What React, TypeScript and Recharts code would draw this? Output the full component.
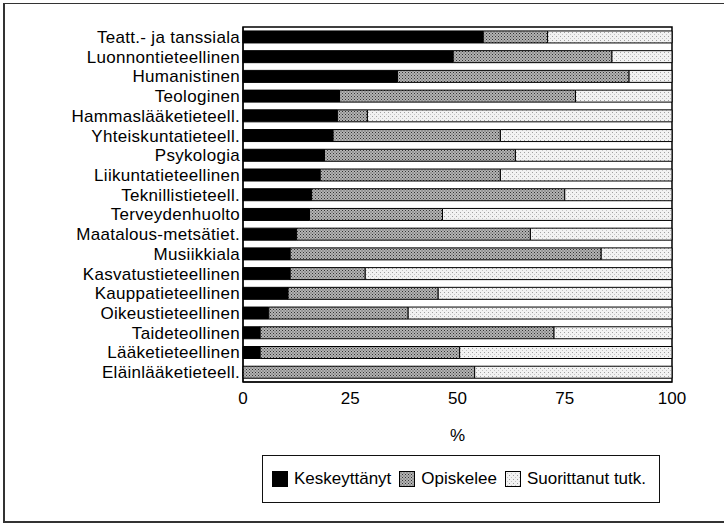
import React from "react";
import {
  BarChart,
  Bar,
  XAxis,
  YAxis,
  ReferenceArea,
} from "recharts";

const categories = [
  "Teatt.- ja tanssiala",
  "Luonnontieteellinen",
  "Humanistinen",
  "Teologinen",
  "Hammaslääketieteell.",
  "Yhteiskuntatieteell.",
  "Psykologia",
  "Liikuntatieteellinen",
  "Teknillistieteell.",
  "Terveydenhuolto",
  "Maatalous-metsätiet.",
  "Musiikkiala",
  "Kasvatustieteellinen",
  "Kauppatieteellinen",
  "Oikeustieteellinen",
  "Taideteollinen",
  "Lääketieteellinen",
  "Eläinlääketieteell.",
];

const keskeyttanyt = [56, 49, 36, 22.5, 22, 21, 19, 18, 16, 15.5, 12.5, 11, 11, 10.5, 6, 4, 4, 0];
const opiskelee = [15, 37, 54, 55, 7, 39, 44.5, 42, 59, 31, 54.5, 72.5, 17.5, 35, 32.5, 68.5, 46.5, 54];
const suorittanut = [29, 14, 10, 22.5, 71, 40, 36.5, 40, 25, 53.5, 33, 16.5, 71.5, 54.5, 61.5, 27.5, 49.5, 46];

const xTicks = [0, 25, 50, 75, 100];

const data = categories.map((name, i) => ({
  name,
  k: keskeyttanyt[i],
  o: opiskelee[i],
  s: suorittanut[i],
}));

const FONT = "'Liberation Sans', Arial, Helvetica, sans-serif";

const legendItems = [
  { label: "Keskeyttänyt", fill: "#000" },
  { label: "Opiskelee", fill: "url(#patOpi)" },
  { label: "Suorittanut tutk.", fill: "url(#patSuo)" },
];

const PatternDefs = () => (
  <defs>
    <pattern id="patOpi" width="3" height="3" patternUnits="userSpaceOnUse">
      <rect width="3" height="3" fill="#b4b4b4" />
      <rect x="0" y="0" width="1" height="1" fill="#333" />
      <rect x="1.5" y="1.5" width="1" height="1" fill="#444" />
    </pattern>
    <pattern id="patSuo" width="4" height="4" patternUnits="userSpaceOnUse">
      <rect width="4" height="4" fill="#f2f2f2" />
      <rect x="0" y="0" width="1" height="1" fill="#a0a0a0" />
      <rect x="2" y="2" width="1" height="1" fill="#c4c4c4" />
    </pattern>
  </defs>
);

const CustomLegend = () => (
  <div
    style={{
      display: "flex",
      alignItems: "center",
      border: "1px solid #111",
      height: 48,
      width: 398,
      boxSizing: "border-box",
      paddingLeft: 9,
      fontFamily: FONT,
      fontSize: 17,
      color: "#000",
      background: "#fff",
    }}
  >
    {legendItems.map((it, i) => (
      <div
        key={i}
        style={{ display: "flex", alignItems: "center", marginRight: 8 }}
      >
        <svg width={16} height={16} style={{ marginRight: 6 }}>
          <rect x={0.5} y={0.5} width={15} height={15} fill={it.fill} stroke="#000" />
        </svg>
        <span>{it.label}</span>
      </div>
    ))}
  </div>
);

export default function App() {
  return (
    <div
      style={{
        position: "absolute",
        left: 0,
        top: 0,
        width: 724,
        height: 523,
        background: "#fff",
      }}
    >
      <svg width={0} height={0} style={{ position: "absolute" }}>
        <PatternDefs />
      </svg>
      <div
        style={{
          position: "absolute",
          left: 3,
          top: 3,
          width: 722,
          height: 517,
          borderTop: "1px solid #333",
          borderLeft: "2px solid #333",
          borderBottom: "2px solid #333",
        }}
      />
      <div style={{ position: "absolute", left: 0, top: 0 }}>
        <BarChart
          width={724}
          height={523}
          data={data}
          layout="vertical"
          margin={{ top: 27, right: 52, left: 3, bottom: 81 }}
          barCategoryGap="20%"
        >
          <XAxis
            type="number"
            domain={[0, 100]}
            ticks={xTicks}
            interval={0}
            tickLine={false}
            axisLine={{ stroke: "#000" }}
            tickSize={0}
            tickMargin={10}
            height={60}
            tick={{ fontSize: 17, fill: "#000", fontFamily: FONT }}
            label={{
              value: "%",
              position: "insideBottom",
              offset: 1,
              fontSize: 17,
              fill: "#000",
              fontFamily: FONT,
            }}
          />
          <YAxis
            type="category"
            dataKey="name"
            width={240}
            tickLine={false}
            axisLine={{ stroke: "#000" }}
            tickSize={0}
            tickMargin={3}
            interval={0}
            tick={{ fontSize: 17, fill: "#000", fontFamily: FONT, letterSpacing: 0.3 }}
          />
          <Bar
            dataKey="k"
            stackId="a"
            fill="#000"
            stroke="#000"
            strokeWidth={1}
            isAnimationActive={false}
          />
          <Bar
            dataKey="o"
            stackId="a"
            fill="url(#patOpi)"
            stroke="#000"
            strokeWidth={1}
            isAnimationActive={false}
          />
          <Bar
            dataKey="s"
            stackId="a"
            fill="url(#patSuo)"
            stroke="#000"
            strokeWidth={1}
            isAnimationActive={false}
          />
          <ReferenceArea
            x1={0}
            x2={100}
            fill="none"
            fillOpacity={0}
            stroke="#000"
            strokeWidth={1.5}
          />
        </BarChart>
      </div>
      <div style={{ position: "absolute", left: 262, top: 455 }}>
        <CustomLegend />
      </div>
    </div>
  );
}
